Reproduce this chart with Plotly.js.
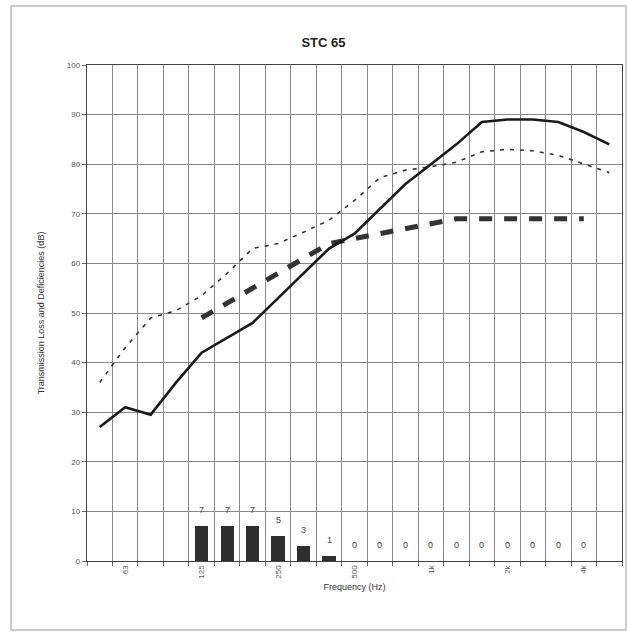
<!DOCTYPE html>
<html>
<head>
<meta charset="utf-8">
<script src="https://cdn.plot.ly/plotly-3.0.1.min.js"></script>
<style>html,body{margin:0;padding:0;background:#fff;}#chart{width:628px;height:633px;}</style>
</head>
<body>
<div id="chart"></div>
<script>
// Data
const freqs = ['50','63','80','100','125','160','200','250','315','400','500','630','800','1000','1250','1600','2000','2500','3150','4000','5000'];
const freqLabels = ['','63','','','125','','','250','','','500','','','1k','','','2k','','','4k',''];
const transmissionLoss = [27,31,29.5,36,42,45,48,53,58,63,66,71,76,80,84,88.5,89,89,88.5,86.5,84];
const otherLoss = [36,43,49,50.5,53.5,58,63,64,66.3,68.7,72.7,77.3,78.8,79.5,80.4,82.5,83,82.7,81.8,80.1,78.3];
const contourFreqs = ['125','160','200','250','315','400','500','630','800','1000','1250','1600','2000','2500','3150','4000'];
const stcContour = [49,52,55,58,61,64,65,66,67,68,69,69,69,69,69,69];
const deficiencies = [7,7,7,5,3,1,0,0,0,0,0,0,0,0,0,0];

const traces = [
  {type:'bar', x:contourFreqs, y:deficiencies, width:0.52,
   marker:{color:'#2e2e2e', line:{width:0}}, hoverinfo:'skip'},
  {type:'scatter', mode:'lines', x:freqs, y:otherLoss,
   line:{color:'#333', width:1.6, dash:'4px,6px'}},
  {type:'scatter', mode:'lines', x:contourFreqs, y:stcContour,
   line:{color:'#333', width:5, dash:'13px,12px'}},
  {type:'scatter', mode:'lines', x:freqs, y:transmissionLoss,
   line:{color:'#1a1a1a', width:2.6}}
];

// category axis annotations use the category index
const annotations = contourFreqs.map((f,i)=>({
  x:freqs.indexOf(f), y:deficiencies[i], xref:'x', yref:'y', text:String(deficiencies[i]),
  showarrow:false, yshift:16, font:{family:'Liberation Sans, Arial', size:9, color:'#444'}
}));

const layout = {
  width:628, height:633,
  margin:{l:87, r:6, t:65, b:72},
  paper_bgcolor:'#fff', plot_bgcolor:'#fff',
  showlegend:false,
  bargap:0,
  title:{text:'<b>STC 65</b>', x:0.515, xref:'container', y:0.94, yref:'container',
         font:{family:'Liberation Sans, Arial', size:13, color:'#222'}},
  xaxis:{type:'category', categoryorder:'array', categoryarray:freqs,
         tickvals:freqs, ticktext:freqLabels, tickson:'boundaries',
         tickangle:-90, ticks:'outside', ticklen:4, tickcolor:'#666',
         showgrid:true, gridcolor:'#8a8a8a', gridwidth:1,
         showline:true, mirror:true, linecolor:'#444', linewidth:1.2,
         tickfont:{family:'Liberation Sans, Arial', size:8, color:'#555'},
         range:[-0.5,20.5], zeroline:false,
         title:{text:'Frequency (Hz)', standoff:6, font:{family:'Liberation Sans, Arial', size:9, color:'#333'}}},
  yaxis:{range:[0,100], dtick:10, tick0:0, ticks:'outside', ticklen:4, tickcolor:'#666',
         showgrid:true, gridcolor:'#8a8a8a', gridwidth:1, zeroline:false,
         showline:true, mirror:true, linecolor:'#444', linewidth:1.2,
         tickfont:{family:'Liberation Sans, Arial', size:8, color:'#555'},
         title:{text:'Transmission Loss and Deficiencies (dB)', standoff:20, font:{family:'Liberation Sans, Arial', size:9, color:'#333'}}},
  annotations:annotations,
  shapes:[{type:'rect', xref:'paper', yref:'paper', x0:-0.142, x1:1.0075, y0:-0.139, y1:1.119,
           line:{color:'#bbb', width:1.5}, fillcolor:'rgba(0,0,0,0)', layer:'below'}]
};

Plotly.newPlot('chart', traces, layout, {displayModeBar:false, staticPlot:true});
</script>
</body>
</html>
